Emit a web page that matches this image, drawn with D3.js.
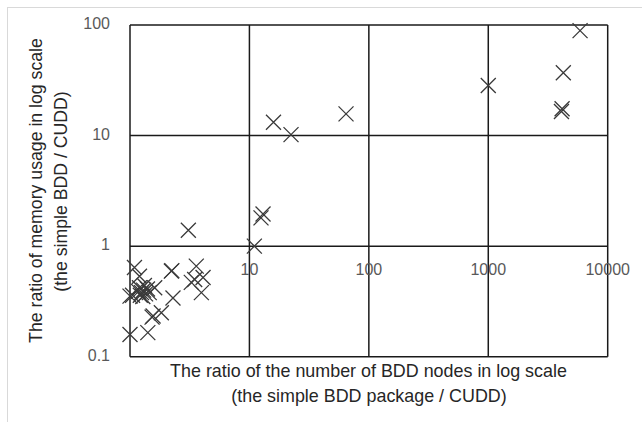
<!DOCTYPE html>
<html><head><meta charset="utf-8">
<script src="https://cdn.jsdelivr.net/npm/d3@7"></script>
<style>body{margin:0;background:#fff}</style></head>
<body><svg id="c" width="642" height="422"></svg>
<script>
const xTicks = [10, 100, 1000, 10000];
const yTicks = [0.1, 1, 10, 100];
const nodeRatio = [5870, 4250, 4150, 4100, 1000, 64.4, 15.9, 22.3, 3.08, 12.5, 13, 11,
  1.09, 1.2, 1.0, 1.61, 2.22, 2.24, 2.29, 1.56, 1.53, 1.83, 1.0, 1.41, 3.59, 3.48, 4.09, 3.96, 3.26,
  1.2, 1.25, 1.3, 1.35, 1.28, 1.22, 1.4, 1.18, 1.32, 1.45, 1.05];
const memRatio = [89, 37, 17.5, 16.5, 28.4, 15.7, 13.2, 10.2, 1.39, 1.8, 1.95, 1.0,
  0.64, 0.535, 0.353, 0.42, 0.594, 0.6, 0.34, 0.233, 0.228, 0.25, 0.159, 0.165, 0.66, 0.5, 0.52, 0.38, 0.47,
  0.42, 0.38, 0.4, 0.37, 0.35, 0.36, 0.41, 0.39, 0.44, 0.38, 0.36];
const xTitle = ["The ratio of the number of BDD nodes in log scale", "(the simple BDD package / CUDD)"];
const yTitle = ["The ratio of memory usage in log scale", "(the simple BDD / CUDD)"];

const svg = d3.select("#c");
const font = "'Liberation Sans', Arial, sans-serif";
const x = d3.scaleLog().domain([1, 10000]).range([130, 607.7]);
const y = d3.scaleLog().domain([0.1, 100]).range([356.7, 25]);

// outer chart border
svg.append("rect").attr("x", 7.5).attr("y", 7.5).attr("width", 800).attr("height", 600)
  .attr("fill", "none").attr("stroke", "#d9d9d9").attr("stroke-width", 1);

const gridColor = "#1a1a1a", gw = 1.5;
// grid
svg.append("g").selectAll("line").data(xTicks).join("line")
  .attr("x1", d => x(d)).attr("x2", d => x(d)).attr("y1", y(100)).attr("y2", y(0.1))
  .attr("stroke", gridColor).attr("stroke-width", gw);
svg.append("g").selectAll("line").data(yTicks).join("line")
  .attr("x1", x(1)).attr("x2", x(10000)).attr("y1", d => y(d)).attr("y2", d => y(d))
  .attr("stroke", gridColor).attr("stroke-width", gw);
svg.append("line").attr("x1", x(1)).attr("x2", x(1)).attr("y1", y(100)).attr("y2", y(0.1))
  .attr("stroke", gridColor).attr("stroke-width", gw);

// tick labels
svg.append("g").selectAll("text").data(xTicks).join("text")
  .attr("x", d => x(d)).attr("y", y(1) + 24.5).attr("text-anchor", "middle").attr("dominant-baseline", "middle")
  .attr("font-family", font).attr("font-size", 16).attr("fill", "#595959").text(d => d);
svg.append("g").selectAll("text").data(yTicks).join("text")
  .attr("x", 110).attr("y", d => y(d)).attr("text-anchor", "end").attr("dominant-baseline", "middle")
  .attr("font-family", font).attr("font-size", 16).attr("fill", "#595959").text(d => d);

// markers
const pts = nodeRatio.map((v, i) => [v, memRatio[i]]);
svg.append("g").selectAll("path").data(pts).join("path")
  .attr("transform", d => `translate(${x(d[0])},${y(d[1])})`)
  .attr("d", "M-7.5,-7.5L7.5,7.5M-7.5,7.5L7.5,-7.5")
  .attr("stroke", "#3a3a3a").attr("stroke-width", 1.3).attr("fill", "none");

// titles, fitted to widths
function fitText(sel, target) {
  const w = sel.node().getComputedTextLength();
  sel.attr("font-size", 16 * target / w);
}
const xt1 = svg.append("text").attr("x", 368.5).attr("y", 372).attr("text-anchor", "middle")
  .attr("dominant-baseline", "middle").attr("font-family", font).attr("font-size", 16).attr("fill", "#262626").text(xTitle[0]);
fitText(xt1, 397);
const xt2 = svg.append("text").attr("x", 369).attr("y", 397).attr("text-anchor", "middle")
  .attr("dominant-baseline", "middle").attr("font-family", font).attr("font-size", xt1.attr("font-size")).attr("fill", "#262626").text(xTitle[1]);
const yt1 = svg.append("text").attr("transform", "translate(37,190.5) rotate(-90)").attr("text-anchor", "middle")
  .attr("dominant-baseline", "middle").attr("font-family", font).attr("font-size", 16).attr("fill", "#262626").text(yTitle[0]);
fitText(yt1, 305);
const yt2 = svg.append("text").attr("transform", "translate(62,191.5) rotate(-90)").attr("text-anchor", "middle")
  .attr("dominant-baseline", "middle").attr("font-family", font).attr("font-size", yt1.attr("font-size")).attr("fill", "#262626").text(yTitle[1]);
</script>
</body></html>
